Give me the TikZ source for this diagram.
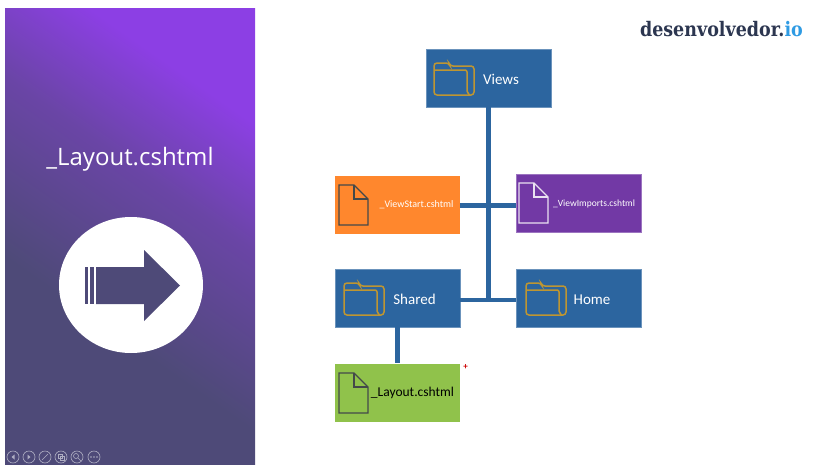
\documentclass[tikz,border=0pt]{standalone}
\usepackage{fontspec}
\setmainfont{Carlito}
\newfontfamily\titlefont{Open Sans}
\newfontfamily\logofont{DejaVu Serif}
\usepackage{xcolor}
\definecolor{panelTop}{HTML}{8C3FE4}
\definecolor{panelMid}{HTML}{6A45A6}
\definecolor{panelBot}{HTML}{4E4A78}
\definecolor{folderBlue}{HTML}{2C659F}
\definecolor{folderLine}{HTML}{BE9632}
\definecolor{startOrange}{HTML}{FF872D}
\definecolor{importsPurple}{HTML}{7239A5}
\definecolor{layoutGreen}{HTML}{90C24B}
\definecolor{iconDark}{HTML}{44494A}
\definecolor{logoDark}{HTML}{2C3650}
\definecolor{logoBlue}{HTML}{2F9BE3}
\pgfdeclareverticalshading{panelfade}{100bp}{color(0bp)=(panelBot); color(38bp)=(panelBot); color(58bp)=(panelMid); color(72bp)=(panelTop); color(100bp)=(panelTop)}
\tikzset{
  boxbase/.style={minimum width=125pt,minimum height=58pt,inner sep=0pt},
  folderbox/.style={boxbase,fill=folderBlue,draw=folderBlue!70!white,line width=0.5pt},
  boxlabel/.style={text=white,font=\fontsize{15}{17}\selectfont,inner sep=0pt},
  smalllabel/.style={text=white,font=\fontsize{10}{12}\selectfont,inner sep=0pt},
  link/.style={draw=folderBlue,line width=#1},
  link/.default=5pt,
  ctrl/.style={draw=white!55!panelBot,line width=0.6pt},
  pics/foldericon/.style={code={
    \draw[folderLine,line width=1.5pt,rounded corners=3pt]
      (0,8) -- (0,1) -- (15,1) -- (16,4) -- (40,4) -- (40,33) -- (0,33) -- cycle;
    \draw[folderLine,line width=1.5pt,rounded corners=2pt]
      (0,8) -- (33,8) -- (33,31) -- (36,33);
  }},
  pics/fileicon/.style={code={
    \draw[#1,line width=1.3pt,line join=miter]
      (0,0) -- (15,0) -- (29,14) -- (29,40) -- (0,40) -- cycle;
    \draw[#1,line width=1.3pt] (15,0) -- (15,14) -- (29,14);
  }}
}
\begin{document}
\begin{tikzpicture}[x=1pt,y=-1pt]
\useasboundingbox (0,0) rectangle (813,471);
\shade[shading=panelfade,shading angle=-35] (5,8) rectangle (255,464);
\node[text=white,font=\titlefont\fontsize{24}{30}\selectfont,inner sep=0pt] (title) at (130,159.5) {\_Layout.cshtml};
\fill[white] (131,285) ellipse [x radius=72,y radius=68];
\fill[panelBot] (96,267) -- (144,267) -- (144,250) -- (180,285.5) -- (144,321) -- (144,304) -- (96,304) -- cycle;
\fill[panelBot] (85,267) rectangle (87.5,304);
\fill[panelBot] (89.5,267) rectangle (94,304);
\draw[ctrl] (13,457) circle (6);
\draw[ctrl] (29,457) circle (6);
\draw[ctrl] (45,457) circle (6);
\draw[ctrl] (61,457) circle (6);
\draw[ctrl] (77,457) circle (6);
\draw[ctrl] (94,457) circle (6);
\fill[white!55!panelBot] (14.5,454.5) -- (14.5,459.5) -- (11.5,457) -- cycle;
\fill[white!55!panelBot] (27.5,454.5) -- (27.5,459.5) -- (30.5,457) -- cycle;
\draw[ctrl] (42,460) -- (48,454);
\draw[ctrl] (58,454) rectangle (62.5,458.5);
\draw[ctrl] (60,456) rectangle (64.5,460.5);
\draw[ctrl] (76,456) circle (2.5) (78,458) -- (81,461);
\fill[white!55!panelBot] (91,457) circle (0.8) (94,457) circle (0.8) (97,457) circle (0.8);
\node[folderbox] (views) at (489,78) {};
\node[boxbase,fill=startOrange] (viewstart) at (397.5,205) {};
\node[boxbase,fill=importsPurple,draw=importsPurple!70!white,line width=0.5pt] (viewimports) at (578.5,203) {};
\node[folderbox] (shared) at (397.5,298) {};
\node[folderbox] (home) at (578.5,298) {};
\node[boxbase,fill=layoutGreen] (layout) at (397.5,392.5) {};
\coordinate (trunk) at (488,299.5);
\draw[link] (views.south -| trunk) -- (trunk);
\draw[link] (viewstart.east) -- (viewstart.east -| viewimports.west);
\draw[link=4pt] (shared.east |- trunk) -- (home.west |- trunk);
\draw[link] (shared.south) -- (layout.north);
\pic at (434,62) {foldericon};
\pic at (344,282) {foldericon};
\pic at (526,282) {foldericon};
\pic at (339,185) {fileicon=iconDark};
\pic at (519,183) {fileicon=white!85!importsPurple};
\pic at (339,373) {fileicon=iconDark};
\node[boxlabel] (viewslabel) at (501,79) {Views};
\node[boxlabel] (sharedlabel) at (414.5,299) {Shared};
\node[boxlabel] (homelabel) at (592,299.5) {Home};
\node[smalllabel] (viewstartlabel) at (416.5,205) {\_ViewStart.cshtml};
\node[smalllabel,font=\fontsize{9.5}{11}\selectfont] (viewimportslabel) at (594,204) {\_ViewImports.cshtml};
\node[text=black,font=\fontsize{13.5}{15}\selectfont,inner sep=0pt] (layoutlabel) at (412.5,393) {\_Layout.cshtml};
\node[text=red!80!black,font=\bfseries\fontsize{9}{10}\selectfont,inner sep=0pt] (plus) at (465.7,366.7) {+};
\node[anchor=east,inner sep=0pt,xscale=0.875,font=\logofont\bfseries\fontsize{20}{22}\selectfont,text=logoDark] (logo) at (803,29) {desenvolvedor.\textcolor{logoBlue}{io}};
\end{tikzpicture}
\end{document}
